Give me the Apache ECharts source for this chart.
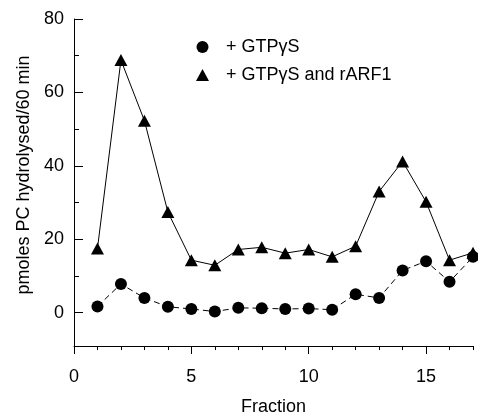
<!DOCTYPE html>
<html>
<head>
<meta charset="utf-8">
<script src="https://cdn.jsdelivr.net/npm/echarts@6/dist/echarts.min.js"></script>
<style>
  html, body { margin: 0; padding: 0; background: #fff; }
  #chart { width: 478px; height: 416px; }
</style>
</head>
<body>
<div id="chart"></div>
<script>
// fraction numbers
const fractions = [1, 2, 3, 4, 5, 6, 7, 8, 9, 10, 11, 12, 13, 14, 15, 16, 17];
// + GTPγS
const gtpValues = [1.7, 7.8, 4.0, 1.6, 1.0, 0.3, 1.3, 1.2, 1.0, 1.1, 0.8, 5.0, 4.0, 11.5, 14.0, 8.4, 15.2];
// + GTPγS and rARF1
const arfValues = [17.5, 68.8, 52.3, 27.4, 14.3, 12.9, 17.2, 17.8, 16.2, 17.2, 15.2, 18.1, 33.0, 41.2, 30.2, 14.3, 16.3];

const xMajorTicks = [0, 5, 10, 15];
const xMinorTicks = [1, 2, 3, 4, 6, 7, 8, 9, 11, 12, 13, 14, 16, 17];
const yMajorTicks = [0, 20, 40, 60, 80];
const yMinorTicks = [10, 30, 50, 70];

const font = '"Liberation Sans", Arial, sans-serif';

function pairs(ys) {
  return fractions.map((f, i) => [f, ys[i]]);
}

const chart = echarts.init(document.getElementById('chart'));

chart.setOption({
  animation: false,
  backgroundColor: '#fff',
  // fixed plot box, don't let labels push it around
  grid: { left: 74, right: 5, top: 19, bottom: 63, outerBoundsMode: 'none' },
  legend: {
    orient: 'vertical',
    left: 191,
    top: 33,
    itemWidth: 13,
    itemHeight: 12,
    itemGap: 10,
    textStyle: { fontFamily: font, fontSize: 18, color: '#000', padding: [0, 0, 0, 12] },
    data: [
      { name: '+ GTPγS', icon: 'circle' },
      { name: '+ GTPγS and rARF1', icon: 'triangle' }
    ]
  },
  xAxis: [
    {
      type: 'value',
      min: 0,
      max: 17,
      position: 'bottom',
      offset: -7,
      axisLine: { show: true, onZero: false, lineStyle: { color: '#000', width: 1 } },
      splitLine: { show: false },
      axisTick: { show: true, length: 8, lineStyle: { color: '#000' }, customValues: xMajorTicks },
      axisLabel: { fontFamily: font, fontSize: 18, color: '#000', margin: 22, customValues: xMajorTicks },
      name: 'Fraction',
      nameLocation: 'middle',
      nameGap: 52,
      nameTextStyle: { fontFamily: font, fontSize: 18, color: '#000' }
    },
    {
      type: 'value',
      min: 0,
      max: 17,
      position: 'bottom',
      offset: -7,
      axisLine: { show: false, onZero: false },
      splitLine: { show: false },
      axisTick: { show: true, length: 4, lineStyle: { color: '#000' }, customValues: xMinorTicks },
      axisLabel: { show: false }
    }
  ],
  yAxis: [
    {
      type: 'value',
      min: -11,
      max: 80,
      position: 'left',
      axisLine: { show: true, onZero: false, lineStyle: { color: '#000', width: 1 } },
      splitLine: { show: false },
      axisTick: { show: true, inside: true, length: 9, lineStyle: { color: '#000' }, customValues: yMajorTicks },
      axisLabel: { fontFamily: font, fontSize: 18, color: '#000', margin: 10, customValues: yMajorTicks },
      name: 'pmoles PC hydrolysed/60 min',
      nameLocation: 'middle',
      nameGap: 38,
      nameTextStyle: { fontFamily: font, fontSize: 18, color: '#000', padding: [0, 0, 0, 22] }
    },
    {
      type: 'value',
      min: -11,
      max: 80,
      position: 'left',
      axisLine: { show: false, onZero: false },
      splitLine: { show: false },
      axisTick: { show: true, inside: true, length: 5, lineStyle: { color: '#000' }, customValues: yMinorTicks },
      axisLabel: { show: false }
    }
  ],
  series: [
    {
      name: '+ GTPγS',
      type: 'line',
      data: pairs(gtpValues),
      symbol: 'circle',
      symbolSize: 12,
      itemStyle: { color: '#000' },
      lineStyle: { color: '#000', width: 1, type: [6, 4] },
      z: 3
    },
    {
      name: '+ GTPγS and rARF1',
      type: 'line',
      data: pairs(arfValues),
      symbol: 'triangle',
      symbolSize: [13, 12],
      itemStyle: { color: '#000' },
      lineStyle: { color: '#000', width: 1 },
      z: 2
    }
  ]
});
</script>
</body>
</html>
